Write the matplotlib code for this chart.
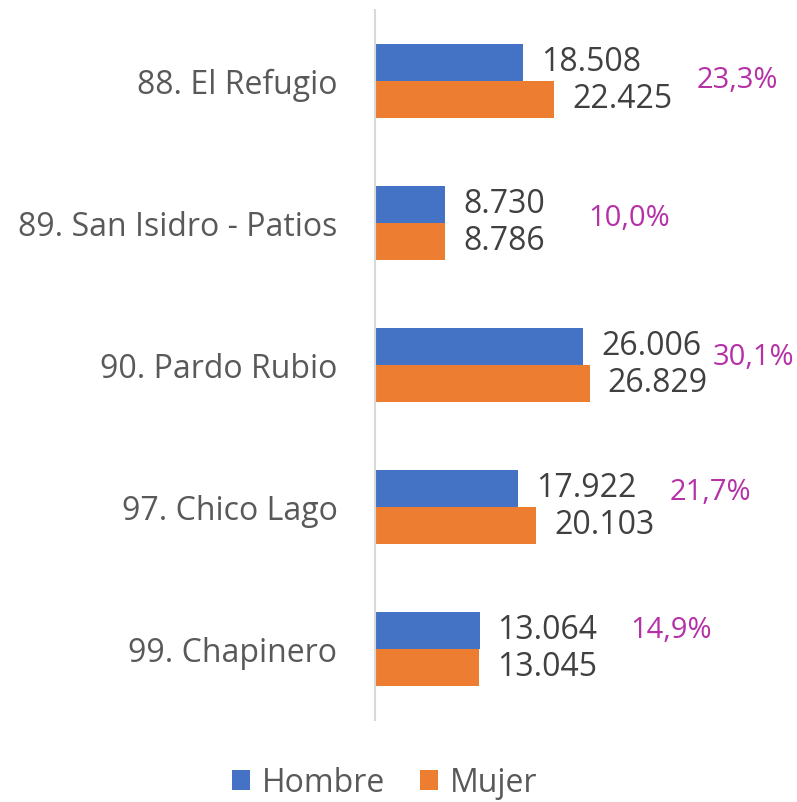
import matplotlib.pyplot as plt
import numpy as np

# data
categories = ['88. El Refugio', '89. San Isidro - Patios', '90. Pardo Rubio',
              '97. Chico Lago', '99. Chapinero']
hombre = [18508, 8730, 26006, 17922, 13064]
mujer = [22425, 8786, 26829, 20103, 13045]
share = ['23,3%', '10,0%', '30,1%', '21,7%', '14,9%']

# where the share labels sit (x in data units, y shift in category units)
share_x = [45270, 31760, 47270, 41890, 37010]
share_dy = [0.0, -0.035, -0.05, -0.1, -0.127]

def fmt(v):
    return f"{v:,}".replace(',', '.')

plt.rcParams['font.family'] = ['Open Sans', 'DejaVu Sans']

fig = plt.figure(figsize=(7.97, 8.02), dpi=100, facecolor='white')
ax = fig.add_axes([375 / 797, 1 - 720 / 802, 1 - 375 / 797, 710 / 802])

y = np.arange(len(categories))
h = 0.26
blue = '#4472C4'
orange = '#ED7D31'

b1 = ax.barh(y - h / 2, hombre, height=h, color=blue, label='Hombre')
b2 = ax.barh(y + h / 2, mujer, height=h, color=orange, label='Mujer')

# value labels
for bars, vals in ((b1, hombre), (b2, mujer)):
    for rect, v in zip(bars, vals):
        ax.annotate(fmt(v), (rect.get_width(), rect.get_y() + rect.get_height() / 2),
                    xytext=(13, 0), textcoords='offset points',
                    ha='left', va='center', fontsize=23, color='#404040')

# share labels
for i, s in enumerate(share):
    ax.text(share_x[i], y[i] + share_dy[i], s, ha='center', va='center',
            fontsize=21, color='#B531A8')

ax.set_xlim(0, 52750)
ax.set_ylim(4.5, -0.5)
ax.set_yticks(y)
ax.set_yticklabels(categories, fontsize=23, color='#595959')
ax.tick_params(axis='y', length=0, pad=27)
ax.set_xticks([])

for name, sp in ax.spines.items():
    sp.set_visible(name == 'left')
ax.spines['left'].set_color('#D9D9D9')
ax.spines['left'].set_linewidth(1.5)

leg = fig.legend(loc='center', bbox_to_anchor=(385 / 797, 1 - 783 / 802), ncol=2,
                 frameon=False, fontsize=23, handlelength=0.56, handleheight=0.56,
                 handletextpad=0.375, columnspacing=1.1, borderpad=0)
for t in leg.get_texts():
    t.set_color('#595959')

plt.savefig('out.png', dpi=100, facecolor='white')
